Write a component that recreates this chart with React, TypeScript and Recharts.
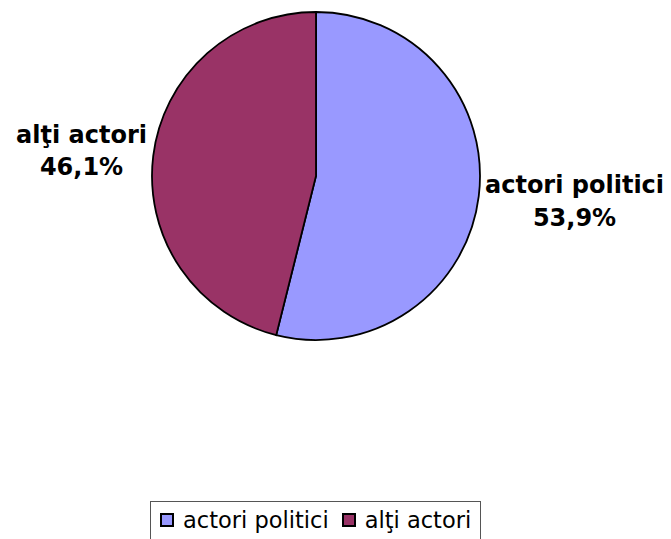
import React from 'react';
import { PieChart, Pie, Cell, Legend } from 'recharts';

const names = ['actori politici', 'alţi actori'];
const shares = [53.9, 46.1];
const colors = ['#9999FF', '#993366'];

const data = names.map((name, i) => ({ name, value: shares[i] }));

const RAD = Math.PI / 180;
const labelFont = 'bold 24px "DejaVu Sans"';

const measure = (s: string) => {
  const ctx = document.createElement('canvas').getContext('2d');
  if (!ctx) return s.length * 12;
  ctx.font = labelFont;
  return ctx.measureText(s).width;
};

const renderLabel = (props: any) => {
  const { cx, cy, midAngle, outerRadius, index } = props;
  const pct = shares[index].toFixed(1).replace('.', ',') + '%';
  const cos = Math.cos(-midAngle * RAD);
  const sin = Math.sin(-midAngle * RAD);
  const w = Math.max(measure(names[index]), measure(pct));
  const edge = cx + (cos >= 0 ? 1 : -1) * (outerRadius + 5);
  const x = cos >= 0 ? edge + w / 2 : edge - w / 2;
  const y = cy + 205 * sin;
  return (
    <text
      x={x}
      y={y}
      textAnchor="middle"
      fontFamily="DejaVu Sans, Verdana, sans-serif"
      fontWeight="bold"
      fontSize={24}
      fill="#000"
    >
      <tspan x={x} dy={-8}>{names[index]}</tspan>
      <tspan x={x} dy={32.5}>{pct}</tspan>
    </text>
  );
};

const LegendBox = () => (
  <div
    style={{
      display: 'flex',
      alignItems: 'center',
      border: '1px solid #555',
      padding: '5px 9px 14px 9px',
      fontFamily: 'DejaVu Sans, Verdana, sans-serif',
      fontSize: 22.5,
      lineHeight: '26px',
      color: '#000',
      background: '#fff',
      whiteSpace: 'nowrap',
    }}
  >
    {names.map((n, i) => (
      <span key={n} style={{ display: 'inline-flex', alignItems: 'center', marginRight: i === 0 ? 13 : 0 }}>
        <span
          style={{
            width: 10,
            height: 10,
            background: colors[i],
            border: '2px solid #000',
            marginRight: 9,
            display: 'inline-block',
          }}
        />
        {n}
      </span>
    ))}
  </div>
);

const App: React.FC = () => {
  return (
    <div style={{ position: 'absolute', left: 0, top: 0, width: 671, height: 539, overflow: 'hidden', background: '#fff' }}>
      <PieChart width={671} height={539} margin={{ top: 0, right: 0, bottom: 0, left: 0 }}>
        <Pie
          data={data}
          dataKey="value"
          nameKey="name"
          cx={316}
          cy={176}
          outerRadius={164}
          startAngle={90}
          endAngle={-270}
          stroke="#000"
          strokeWidth={1.8}
          label={renderLabel}
          labelLine={false}
          isAnimationActive={false}
        >
          {data.map((d, i) => (
            <Cell key={d.name} fill={colors[i]} />
          ))}
        </Pie>
        <Legend
          content={<LegendBox />}
          wrapperStyle={{ left: 150, top: 501, width: 'auto', bottom: 'auto' }}
        />
      </PieChart>
    </div>
  );
};

export default App;
